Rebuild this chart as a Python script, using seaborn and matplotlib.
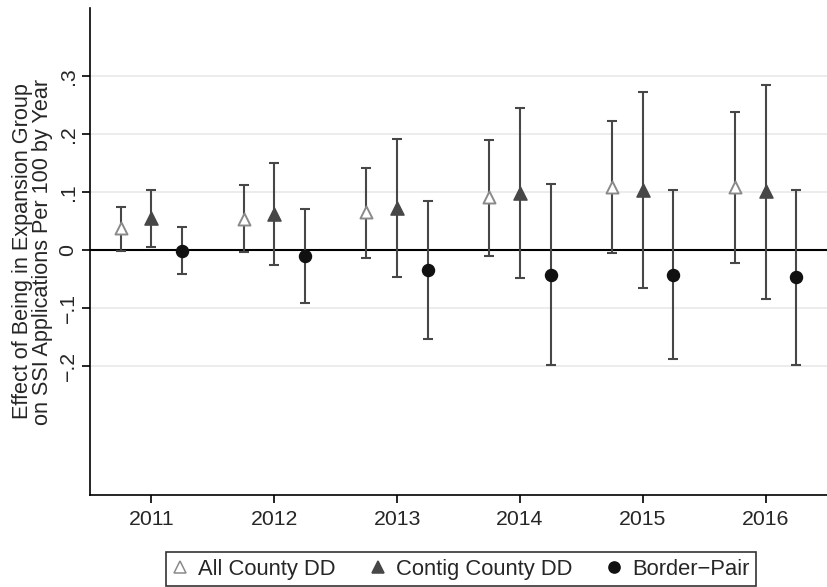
import matplotlib
matplotlib.use("Agg")
import matplotlib.pyplot as plt
import numpy as np
import pandas as pd
import seaborn as sns

YEARS = [2011, 2012, 2013, 2014, 2015, 2016]
SERIES = ["All County DD", "Contig County DD", "Border\u2212Pair"]

ALL_EST = [0.038, 0.054, 0.066, 0.091, 0.109, 0.109]
ALL_LO = [-0.001, -0.004, -0.014, -0.010, -0.005, -0.022]
ALL_HI = [0.074, 0.112, 0.141, 0.189, 0.223, 0.238]

CONTIG_EST = [0.056, 0.062, 0.073, 0.099, 0.104, 0.101]
CONTIG_LO = [0.005, -0.026, -0.047, -0.049, -0.065, -0.085]
CONTIG_HI = [0.104, 0.150, 0.191, 0.245, 0.272, 0.284]

BORDER_EST = [-0.002, -0.011, -0.035, -0.043, -0.043, -0.047]
BORDER_LO = [-0.041, -0.092, -0.154, -0.198, -0.188, -0.198]
BORDER_HI = [0.039, 0.071, 0.085, 0.113, 0.104, 0.104]


def build_df():
    rows = []
    groups = [
        (SERIES[0], -0.25, ALL_EST, ALL_LO, ALL_HI),
        (SERIES[1], 0.0, CONTIG_EST, CONTIG_LO, CONTIG_HI),
        (SERIES[2], 0.25, BORDER_EST, BORDER_LO, BORDER_HI),
    ]
    for name, off, est, lo, hi in groups:
        for y, e, l, h in zip(YEARS, est, lo, hi):
            rows.append({"series": name, "x": y + off, "est": e, "lo": l, "hi": h})
    return pd.DataFrame(rows)


df = build_df()

sns.set_theme(style="white")
plt.rcParams["font.family"] = ["Liberation Sans", "DejaVu Sans"]
FS = 15.3

fig = plt.figure(figsize=(8.27, 5.87), dpi=100)
ax = fig.add_axes([90 / 827, 1 - 495 / 587, 737 / 827, 487 / 587])

for yv in [-0.2, -0.1, 0.1, 0.2, 0.3]:
    ax.axhline(yv, color="#ebebeb", lw=1.3, zorder=0)
ax.axhline(0, color="black", lw=1.5, zorder=1)

# confidence intervals
ax.errorbar(
    df["x"], df["est"],
    yerr=[df["est"] - df["lo"], df["hi"] - df["est"]],
    fmt="none", ecolor="#474747", elinewidth=1.5, capsize=3.8, capthick=1.5,
    zorder=2,
)

styles = {
    SERIES[0]: dict(marker="^", s=75, facecolor="white", edgecolor="#8a8a8a", linewidth=1.4),
    SERIES[1]: dict(marker="^", s=90, facecolor="#474747", edgecolor="#474747", linewidth=1),
    SERIES[2]: dict(marker="o", s=75, facecolor="#111111", edgecolor="#111111", linewidth=1),
}
handles = []
for name in SERIES:
    sub = df[df["series"] == name]
    st = styles[name]
    sns.scatterplot(
        data=sub, x="x", y="est", ax=ax, marker=st["marker"], s=st["s"],
        color=st["facecolor"], edgecolor=st["edgecolor"], linewidth=st["linewidth"],
        zorder=3, legend=False,
    )
    handles.append(
        plt.Line2D([], [], ls="none", marker=st["marker"], markersize=8,
                   markerfacecolor=st["facecolor"], markeredgecolor=st["edgecolor"],
                   markeredgewidth=1.1, label=name)
    )

ax.set_xlim(2010.5, 2016.5)
ax.set_ylim(-0.422, 0.417)
ax.set_xticks(YEARS)
ax.set_xticklabels([str(y) for y in YEARS], fontsize=FS)
ax.set_yticks([-0.2, -0.1, 0, 0.1, 0.2, 0.3])
ax.set_yticklabels(["\u2212.2", "\u2212.1", "0", ".1", ".2", ".3"], fontsize=FS,
                   rotation=90, va="center")
ax.tick_params(axis="both", length=6, width=1.2, color="black", direction="out",
               bottom=True, left=True)
ax.tick_params(axis="y", pad=3)
ax.tick_params(axis="x", pad=5)
ax.set_xlabel("")
ax.set_ylabel("Effect of Being in Expansion Group\non SSI Applications Per 100 by Year",
              fontsize=15.6, linespacing=0.92, labelpad=4)

for side in ["top", "right"]:
    ax.spines[side].set_visible(False)
for side in ["left", "bottom"]:
    ax.spines[side].set_color("black")
    ax.spines[side].set_linewidth(1.2)

leg = fig.legend(
    handles=handles, loc="lower left", bbox_to_anchor=(166 / 827, 1 / 587), ncol=3,
    frameon=True, fontsize=15.8, handletextpad=0.47, columnspacing=1.57,
    borderpad=0.29, handlelength=0.7, borderaxespad=0.0, fancybox=False,
)
leg.get_frame().set_edgecolor("black")
leg.get_frame().set_linewidth(1.2)

fig.savefig("out.png", dpi=100)
